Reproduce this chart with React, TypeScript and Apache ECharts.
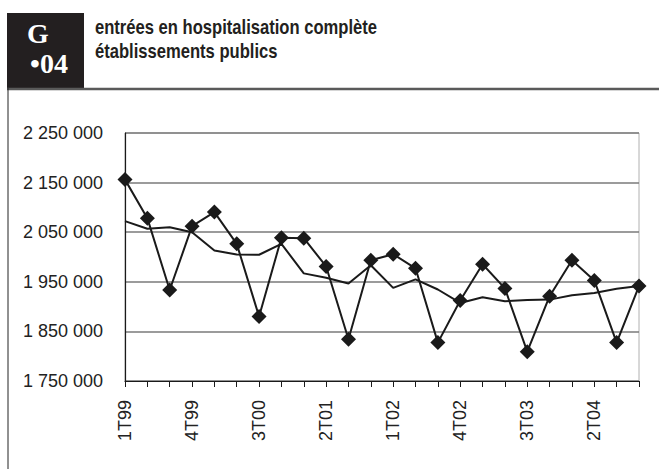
import React, { useEffect, useRef } from "react";
import * as echarts from "echarts";

const categories = [
  "1T99", "2T99", "3T99", "4T99",
  "1T00", "2T00", "3T00", "4T00",
  "1T01", "2T01", "3T01", "4T01",
  "1T02", "2T02", "3T02", "4T02",
  "1T03", "2T03", "3T03", "4T03",
  "1T04", "2T04", "3T04", "4T04",
];

const entrees = [
  2156000, 2078300, 1933400, 2062200, 2090500, 2026500, 1880000, 2038700,
  2038000, 1981000, 1834100, 1993500, 2005700, 1977200, 1827400, 1912200,
  1985400, 1936600, 1809100, 1920900, 1993500, 1952800, 1827400, 1941300,
];

const tendance = [
  2072300, 2056900, 2060100, 2050000, 2013000, 2004900, 2004500, 2026500,
  1967000, 1958000, 1946700, 1983300, 1937800, 1954900, 1934500, 1907300,
  1918900, 1910800, 1913400, 1914100, 1923000, 1927600, 1935800, 1941300,
];

const titleLines = ["entrées en hospitalisation complète", "établissements publics"];
const yMin = 1750000;
const yMax = 2250000;
const yStep = 100000;

const fmt = (v: number) => String(Math.round(v)).replace(/\B(?=(\d{3})+(?!\d))/g, " ");

export default function App() {
  const ref = useRef<HTMLDivElement>(null);
  useEffect(() => {
    if (!ref.current) return;
    const chart = echarts.init(ref.current, null, { renderer: "svg" });
    const font = "'Liberation Sans', Arial, sans-serif";
    const titleFont = "bold 20px 'Liberation Sans', Arial, sans-serif";
    chart.setOption({
      animation: false,
      backgroundColor: "#ffffff",
      grid: {
        left: 125,
        right: 20,
        top: 133,
        bottom: 88,
        show: true,
        borderColor: "#b0b0b0",
        borderWidth: 1,
      },
      xAxis: {
        type: "category",
        data: categories,
        boundaryGap: false,
        axisLine: { show: true, lineStyle: { color: "#1a1a1a", width: 1.2 } },
        axisTick: { show: true, interval: 0, length: 6, lineStyle: { color: "#1a1a1a" } },
        axisLabel: {
          interval: 2,
          rotate: 90,
          margin: 19,
          fontSize: 18,
          fontFamily: font,
          color: "#222222",
        },
        splitLine: { show: false },
      },
      yAxis: {
        type: "value",
        min: yMin,
        max: yMax,
        interval: yStep,
        axisLine: { show: true, lineStyle: { color: "#1a1a1a", width: 1.2 } },
        axisTick: { show: false },
        axisLabel: {
          formatter: (v: number) => fmt(v),
          margin: 22,
          fontSize: 18,
          fontFamily: font,
          color: "#222222",
        },
        splitLine: { show: true, lineStyle: { color: "#7a7a7a", width: 1.5 } },
      },
      series: [
        {
          name: "entrées",
          type: "line",
          data: entrees,
          symbol: "diamond",
          symbolSize: 15,
          showSymbol: true,
          showAllSymbol: true,
          itemStyle: { color: "#1a1a1a" },
          lineStyle: { color: "#1a1a1a", width: 2 },
          z: 3,
        },
        {
          name: "tendance",
          type: "line",
          data: tendance,
          symbol: "none",
          showSymbol: false,
          lineStyle: { color: "#1a1a1a", width: 2 },
          z: 2,
        },
      ],
      graphic: [
        { type: "rect", shape: { x: 7, y: 13, width: 77, height: 75 }, style: { fill: "#231f20" } },
        {
          type: "text",
          x: 38,
          y: 19,
          style: {
            text: "G",
            fill: "#ffffff",
            font: "bold 28px 'Liberation Serif', 'Times New Roman', serif",
            align: "center",
            verticalAlign: "top",
          },
        },
        {
          type: "text",
          x: 49,
          y: 49,
          style: {
            text: "•04",
            fill: "#ffffff",
            font: "bold 28px 'Liberation Serif', 'Times New Roman', serif",
            align: "center",
            verticalAlign: "top",
          },
        },
        {
          type: "text",
          x: 95,
          y: 17,
          scaleX: 0.83,
          style: {
            text: titleLines[0],
            fill: "#231f20",
            font: titleFont,
            verticalAlign: "top",
          },
        },
        {
          type: "text",
          x: 95,
          y: 41,
          scaleX: 0.83,
          style: {
            text: titleLines[1],
            fill: "#231f20",
            font: titleFont,
            verticalAlign: "top",
          },
        },
        { type: "line", shape: { x1: 7, y1: 89, x2: 659, y2: 89 }, style: { stroke: "#5a5a5a", lineWidth: 2.5 } },
        { type: "line", shape: { x1: 8, y1: 88, x2: 8, y2: 469 }, style: { stroke: "#222222", lineWidth: 1 } },
      ],
    });
    return () => chart.dispose();
  }, []);
  return (
    <div
      ref={ref}
      style={{ position: "absolute", left: 0, top: 0, width: 659, height: 469 }}
    />
  );
}
